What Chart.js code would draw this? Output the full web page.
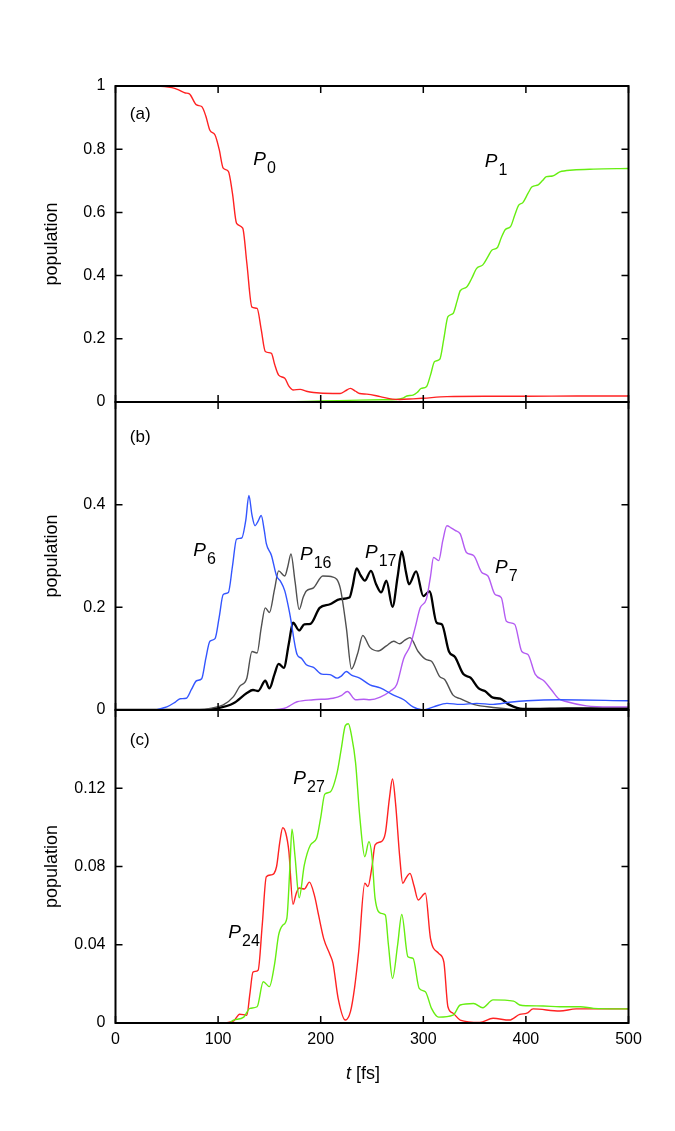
<!DOCTYPE html>
<html>
<head>
<meta charset="utf-8">
<script src="https://cdn.jsdelivr.net/npm/chart.js@4/dist/chart.umd.min.js"></script>
<style>
  html, body { margin: 0; padding: 0; background: #fff; }
  #wrap { position: relative; width: 675px; height: 1131px; }
  #wrap canvas { position: absolute; left: 0; top: 0; }
</style>
</head>
<body>
<div id="wrap">
  <canvas id="panelA" width="675" height="1131"></canvas>
  <canvas id="panelB" width="675" height="1131"></canvas>
  <canvas id="panelC" width="675" height="1131"></canvas>
</div>
<script>
// time axis [fs]
var xTicks = [0, 100, 200, 300, 400, 500];

// panel (a)
var p0T = [0, 40, 55, 62, 68, 72, 79, 84, 88, 92, 97, 101, 105, 110, 114, 118, 124, 128, 133, 138, 142, 146, 152, 155, 159, 165, 169, 173, 180, 186, 193, 212, 219, 224, 229, 234, 238, 245, 258, 270, 277, 290, 300, 323, 360, 400, 450, 500];
var p0V = [1, 1, 0.995, 0.987, 0.978, 0.975, 0.94, 0.935, 0.905, 0.86, 0.845, 0.80, 0.74, 0.73, 0.66, 0.565, 0.55, 0.44, 0.30, 0.296, 0.23, 0.16, 0.154, 0.12, 0.085, 0.075, 0.05, 0.038, 0.040, 0.034, 0.030, 0.027, 0.027, 0.035, 0.043, 0.034, 0.027, 0.025, 0.017, 0.009, 0.008, 0.010, 0.012, 0.017, 0.018, 0.018, 0.019, 0.019];
var p1T = [0, 150, 200, 238, 260, 274, 280, 284, 290, 294, 298, 303, 307, 311, 316, 320, 324, 329, 333, 336, 342, 347, 352, 358, 363, 367, 372, 376, 380, 385, 389, 393, 397, 402, 406, 412, 416, 420, 426, 433, 446, 466, 500];
var p1V = [0, 0, 0.003, 0.006, 0.007, 0.008, 0.012, 0.019, 0.022, 0.03, 0.043, 0.048, 0.085, 0.128, 0.135, 0.2, 0.27, 0.28, 0.32, 0.352, 0.363, 0.39, 0.423, 0.434, 0.46, 0.481, 0.488, 0.52, 0.546, 0.555, 0.59, 0.623, 0.631, 0.66, 0.681, 0.687, 0.70, 0.713, 0.715, 0.728, 0.734, 0.737, 0.739];

// panel (b)
var p6T = [0, 34, 50, 58, 63, 69, 74, 79, 84, 88, 92, 97, 101, 105, 110, 114, 118, 123, 127, 130, 133, 136, 139, 142, 145, 147, 152, 157, 161, 165, 170, 177, 181, 186, 193, 201, 209, 216, 220, 225, 230, 238, 248, 258, 271, 281, 290, 300, 310, 323, 336, 352, 368, 384, 401, 433, 500];
var p6V = [0, 0, 0.006, 0.015, 0.022, 0.023, 0.04, 0.057, 0.061, 0.10, 0.134, 0.139, 0.18, 0.225, 0.229, 0.28, 0.333, 0.335, 0.37, 0.418, 0.38, 0.359, 0.368, 0.379, 0.35, 0.324, 0.301, 0.261, 0.25, 0.232, 0.186, 0.108, 0.101, 0.088, 0.083, 0.070, 0.069, 0.062, 0.066, 0.075, 0.068, 0.062, 0.049, 0.043, 0.029, 0.020, 0.006, 0.0, 0.006, 0.013, 0.011, 0.013, 0.011, 0.015, 0.018, 0.020, 0.018];
var p16T = [0, 85, 92, 105, 115, 121, 128, 133, 138, 142, 146, 150, 155, 159, 165, 168, 171, 175, 179, 183, 186, 193, 202, 212, 219, 225, 230, 236, 241, 248, 256, 264, 271, 277, 282, 287, 295, 303, 308, 316, 321, 329, 336, 349, 368, 401, 500];
var p16V = [0, 0, 0.003, 0.01, 0.026, 0.046, 0.062, 0.114, 0.111, 0.16, 0.199, 0.19, 0.235, 0.271, 0.261, 0.28, 0.304, 0.25, 0.196, 0.22, 0.232, 0.238, 0.261, 0.259, 0.238, 0.160, 0.08, 0.11, 0.145, 0.122, 0.115, 0.125, 0.134, 0.129, 0.136, 0.141, 0.114, 0.098, 0.095, 0.065, 0.059, 0.029, 0.022, 0.011, 0.005, 0, 0];
var p17T = [0, 82, 99, 115, 128, 134, 139, 146, 150, 155, 159, 164, 169, 173, 179, 184, 190, 199, 209, 219, 228, 231, 235, 239, 243, 249, 254, 259, 264, 270, 275, 279, 283, 286, 293, 300, 306, 313, 318, 325, 331, 339, 346, 354, 360, 368, 375, 384, 397, 407, 440, 500];
var p17V = [0, 0, 0.003, 0.013, 0.033, 0.039, 0.037, 0.057, 0.042, 0.07, 0.090, 0.082, 0.13, 0.170, 0.155, 0.167, 0.168, 0.199, 0.206, 0.216, 0.219, 0.24, 0.276, 0.262, 0.252, 0.271, 0.245, 0.229, 0.252, 0.201, 0.26, 0.309, 0.27, 0.245, 0.270, 0.222, 0.231, 0.170, 0.167, 0.114, 0.103, 0.070, 0.063, 0.042, 0.037, 0.024, 0.022, 0.01, 0.002, 0.002, 0.003, 0.003];
var p7T = [0, 141, 164, 177, 193, 212, 220, 226, 234, 242, 248, 258, 268, 274, 281, 287, 292, 297, 303, 307, 310, 315, 319, 323, 327, 331, 336, 342, 349, 357, 363, 370, 376, 381, 389, 396, 402, 409, 418, 425, 432, 440, 459, 482, 500];
var p7V = [0, 0, 0.003, 0.016, 0.020, 0.023, 0.028, 0.036, 0.020, 0.021, 0.020, 0.025, 0.037, 0.049, 0.101, 0.124, 0.16, 0.199, 0.216, 0.26, 0.297, 0.291, 0.33, 0.359, 0.355, 0.350, 0.343, 0.307, 0.301, 0.268, 0.261, 0.225, 0.219, 0.173, 0.167, 0.114, 0.108, 0.070, 0.056, 0.039, 0.022, 0.016, 0.008, 0.006, 0.006];

// panel (c)
var p24T = [0, 100, 115, 121, 128, 131, 134, 139, 143, 147, 152, 157, 160, 163, 166, 169, 173, 176, 179, 184, 189, 194, 198, 203, 209, 212, 217, 224, 229, 233, 237, 243, 246, 250, 253, 259, 263, 267, 270, 273, 277, 280, 283, 287, 291, 295, 302, 307, 315, 320, 324, 329, 336, 355, 368, 384, 394, 401, 407, 433, 449, 500];
var p24V = [0, 0, 0.001, 0.0045, 0.004, 0.015, 0.026, 0.027, 0.05, 0.0748, 0.0757, 0.080, 0.092, 0.0998, 0.097, 0.0876, 0.0607, 0.066, 0.069, 0.0685, 0.072, 0.065, 0.055, 0.043, 0.035, 0.0305, 0.0126, 0.0015, 0.0058, 0.018, 0.0364, 0.0714, 0.0697, 0.08, 0.091, 0.0927, 0.097, 0.115, 0.1247, 0.112, 0.085, 0.0714, 0.074, 0.0765, 0.07, 0.0629, 0.0663, 0.0433, 0.0356, 0.0313, 0.0083, 0.005, 0.0015, 0.0003, 0.0024, 0.0015, 0.0044, 0.005, 0.0072, 0.0061, 0.0072, 0.0072];
var p27T = [0, 110, 115, 125, 131, 138, 144, 150, 155, 159, 163, 167, 170, 172, 175, 179, 184, 190, 196, 200, 204, 209, 216, 220, 224, 227, 230, 234, 238, 243, 247, 250, 253, 259, 263, 266, 270, 275, 279, 285, 290, 296, 302, 308, 315, 329, 336, 349, 358, 368, 388, 394, 401, 417, 433, 453, 466, 500];
var p27V = [0, 0, 0.0015, 0.003, 0.0075, 0.0083, 0.0211, 0.0186, 0.03, 0.045, 0.050, 0.0535, 0.08, 0.0991, 0.085, 0.064, 0.0807, 0.091, 0.0944, 0.105, 0.117, 0.118, 0.128, 0.14, 0.152, 0.153, 0.147, 0.133, 0.106, 0.085, 0.0927, 0.085, 0.0637, 0.056, 0.0552, 0.04, 0.0228, 0.04, 0.0555, 0.0339, 0.033, 0.0177, 0.016, 0.0075, 0.003, 0.004, 0.0092, 0.01, 0.0078, 0.0118, 0.0112, 0.0092, 0.0088, 0.0087, 0.0083, 0.0083, 0.0075, 0.0072];

// y ranges / tick steps per panel
var yMaxA = 1, yStepA = 0.2;
var yMaxB = 0.6, yStepB = 0.2;
var yMaxC = 0.16, yStepC = 0.04;

Chart.defaults.font.family = '"Liberation Sans", Arial, sans-serif';
Chart.defaults.color = '#000';

function pts(t, v) {
    return t.map(function(x, i) { return { x: x, y: v[i] }; });
}

function line(t, v, color, width) {
    return {
        data: pts(t, v),
        borderColor: color,
        borderWidth: width || 1.4,
        pointRadius: 0,
        fill: false,
        cubicInterpolationMode: 'monotone'
    };
}

// frame with inward ticks, panel tag and series names
var framePlugin = {
    id: 'frame',
    afterDatasetsDraw: function(chart, args, opts) {
        var ctx = chart.ctx, a = chart.chartArea;
        var xs = chart.scales.x, ys = chart.scales.y;
        ctx.save();
        ctx.strokeStyle = '#000';
        ctx.lineWidth = 1.5;
        ctx.beginPath();
        xTicks.forEach(function(t) {
            var px = xs.getPixelForValue(t);
            ctx.moveTo(px, a.top); ctx.lineTo(px, a.top + 7);
            ctx.moveTo(px, a.bottom); ctx.lineTo(px, a.bottom - 7);
        });
        ys.ticks.forEach(function(tk) {
            var py = ys.getPixelForValue(tk.value);
            ctx.moveTo(a.left, py); ctx.lineTo(a.left + 7, py);
            ctx.moveTo(a.right, py); ctx.lineTo(a.right - 7, py);
        });
        ctx.stroke();
        ctx.lineWidth = 2;
        ctx.strokeRect(a.left, a.top, a.right - a.left, a.bottom - a.top);

        ctx.fillStyle = '#000';
        ctx.textBaseline = 'alphabetic';
        ctx.textAlign = 'left';
        ctx.font = '17px "Liberation Sans", Arial, sans-serif';
        ctx.fillText(opts.tag.text, xs.getPixelForValue(opts.tag.t), ys.getPixelForValue(opts.tag.v));

        opts.names.forEach(function(n) {
            var px = xs.getPixelForValue(n.t), py = ys.getPixelForValue(n.v);
            ctx.font = 'italic 19px "Liberation Sans", Arial, sans-serif';
            ctx.fillText('P', px, py);
            var w = ctx.measureText('P').width;
            ctx.font = '16px "Liberation Sans", Arial, sans-serif';
            ctx.fillText(n.sub, px + w + 1, py + 8);
        });

        if (opts.xTitle) {
            ctx.font = 'italic 18px "Liberation Sans", Arial, sans-serif';
            var w1 = ctx.measureText('t').width;
            ctx.font = '18px "Liberation Sans", Arial, sans-serif';
            var w2 = ctx.measureText(' [fs]').width;
            var cx = (a.left + a.right) / 2 - 9;
            var x0 = cx - (w1 + w2) / 2;
            ctx.textBaseline = 'middle';
            ctx.font = 'italic 18px "Liberation Sans", Arial, sans-serif';
            ctx.fillText('t', x0, 1074);
            ctx.font = '18px "Liberation Sans", Arial, sans-serif';
            ctx.fillText(' [fs]', x0 + w1, 1074);
        }
        ctx.restore();
    }
};

function makePanel(id, top, bottom, yMax, yStep, datasets, showX, tag, names) {
    var xHeight = showX ? 40 : 0;
    new Chart(document.getElementById(id), {
        type: 'line',
        data: { datasets: datasets },
        plugins: [framePlugin],
        options: {
            responsive: false,
            animation: false,
            layout: { padding: { left: 37, right: 46.5, top: top, bottom: 1131 - bottom - xHeight } },
            plugins: {
                legend: { display: false },
                tooltip: { enabled: false },
                frame: { tag: tag, names: names, xTitle: showX }
            },
            scales: {
                x: {
                    type: 'linear',
                    min: 0,
                    max: 500,
                    grid: { display: false, drawTicks: false },
                    border: { display: false },
                    ticks: { display: showX, stepSize: 100, padding: 7, font: { size: 16 }, maxRotation: 0 },
                    afterFit: function(s) { s.height = xHeight; }
                },
                y: {
                    min: 0,
                    max: yMax,
                    grid: { display: false, drawTicks: false },
                    border: { display: false },
                    title: { display: true, text: 'population', font: { size: 18 }, padding: { top: 4, bottom: 4 } },
                    ticks: {
                        stepSize: yStep,
                        padding: 10,
                        font: { size: 16 },
                        callback: function(v) {
                            if (yMax < 1 && Math.abs(v - yMax) < 1e-9) return '';
                            return String(+v.toFixed(2));
                        }
                    },
                    afterFit: function(s) { s.width = 78.5; }
                }
            }
        }
    });
}

var red = '#ff2222', green = '#66ee11', blue = '#3355ff', purple = '#b45cf2', gray = '#505050', black = '#000000';

makePanel('panelA', 86, 402, yMaxA, yStepA,
    [line(p0T, p0V, red), line(p1T, p1V, green)],
    false,
    { text: '(a)', t: 14, v: 0.894 },
    [{ sub: '0', t: 134.3, v: 0.75 }, { sub: '1', t: 360, v: 0.744 }]);

makePanel('panelB', 402, 710, yMaxB, yStepB,
    [line(p6T, p6V, blue), line(p7T, p7V, purple), line(p16T, p16V, gray), line(p17T, p17V, black, 2.3)],
    false,
    { text: '(b)', t: 14, v: 0.5225 },
    [{ sub: '6', t: 75.8, v: 0.30 }, { sub: '16', t: 179.8, v: 0.293 }, { sub: '17', t: 243.2, v: 0.297 }, { sub: '7', t: 369.9, v: 0.267 }]);

makePanel('panelC', 710, 1023, yMaxC, yStepC,
    [line(p27T, p27V, green), line(p24T, p24V, red)],
    true,
    { text: '(c)', t: 14, v: 0.1423 },
    [{ sub: '27', t: 173.3, v: 0.122 }, { sub: '24', t: 110, v: 0.0436 }]);
</script>
</body>
</html>
